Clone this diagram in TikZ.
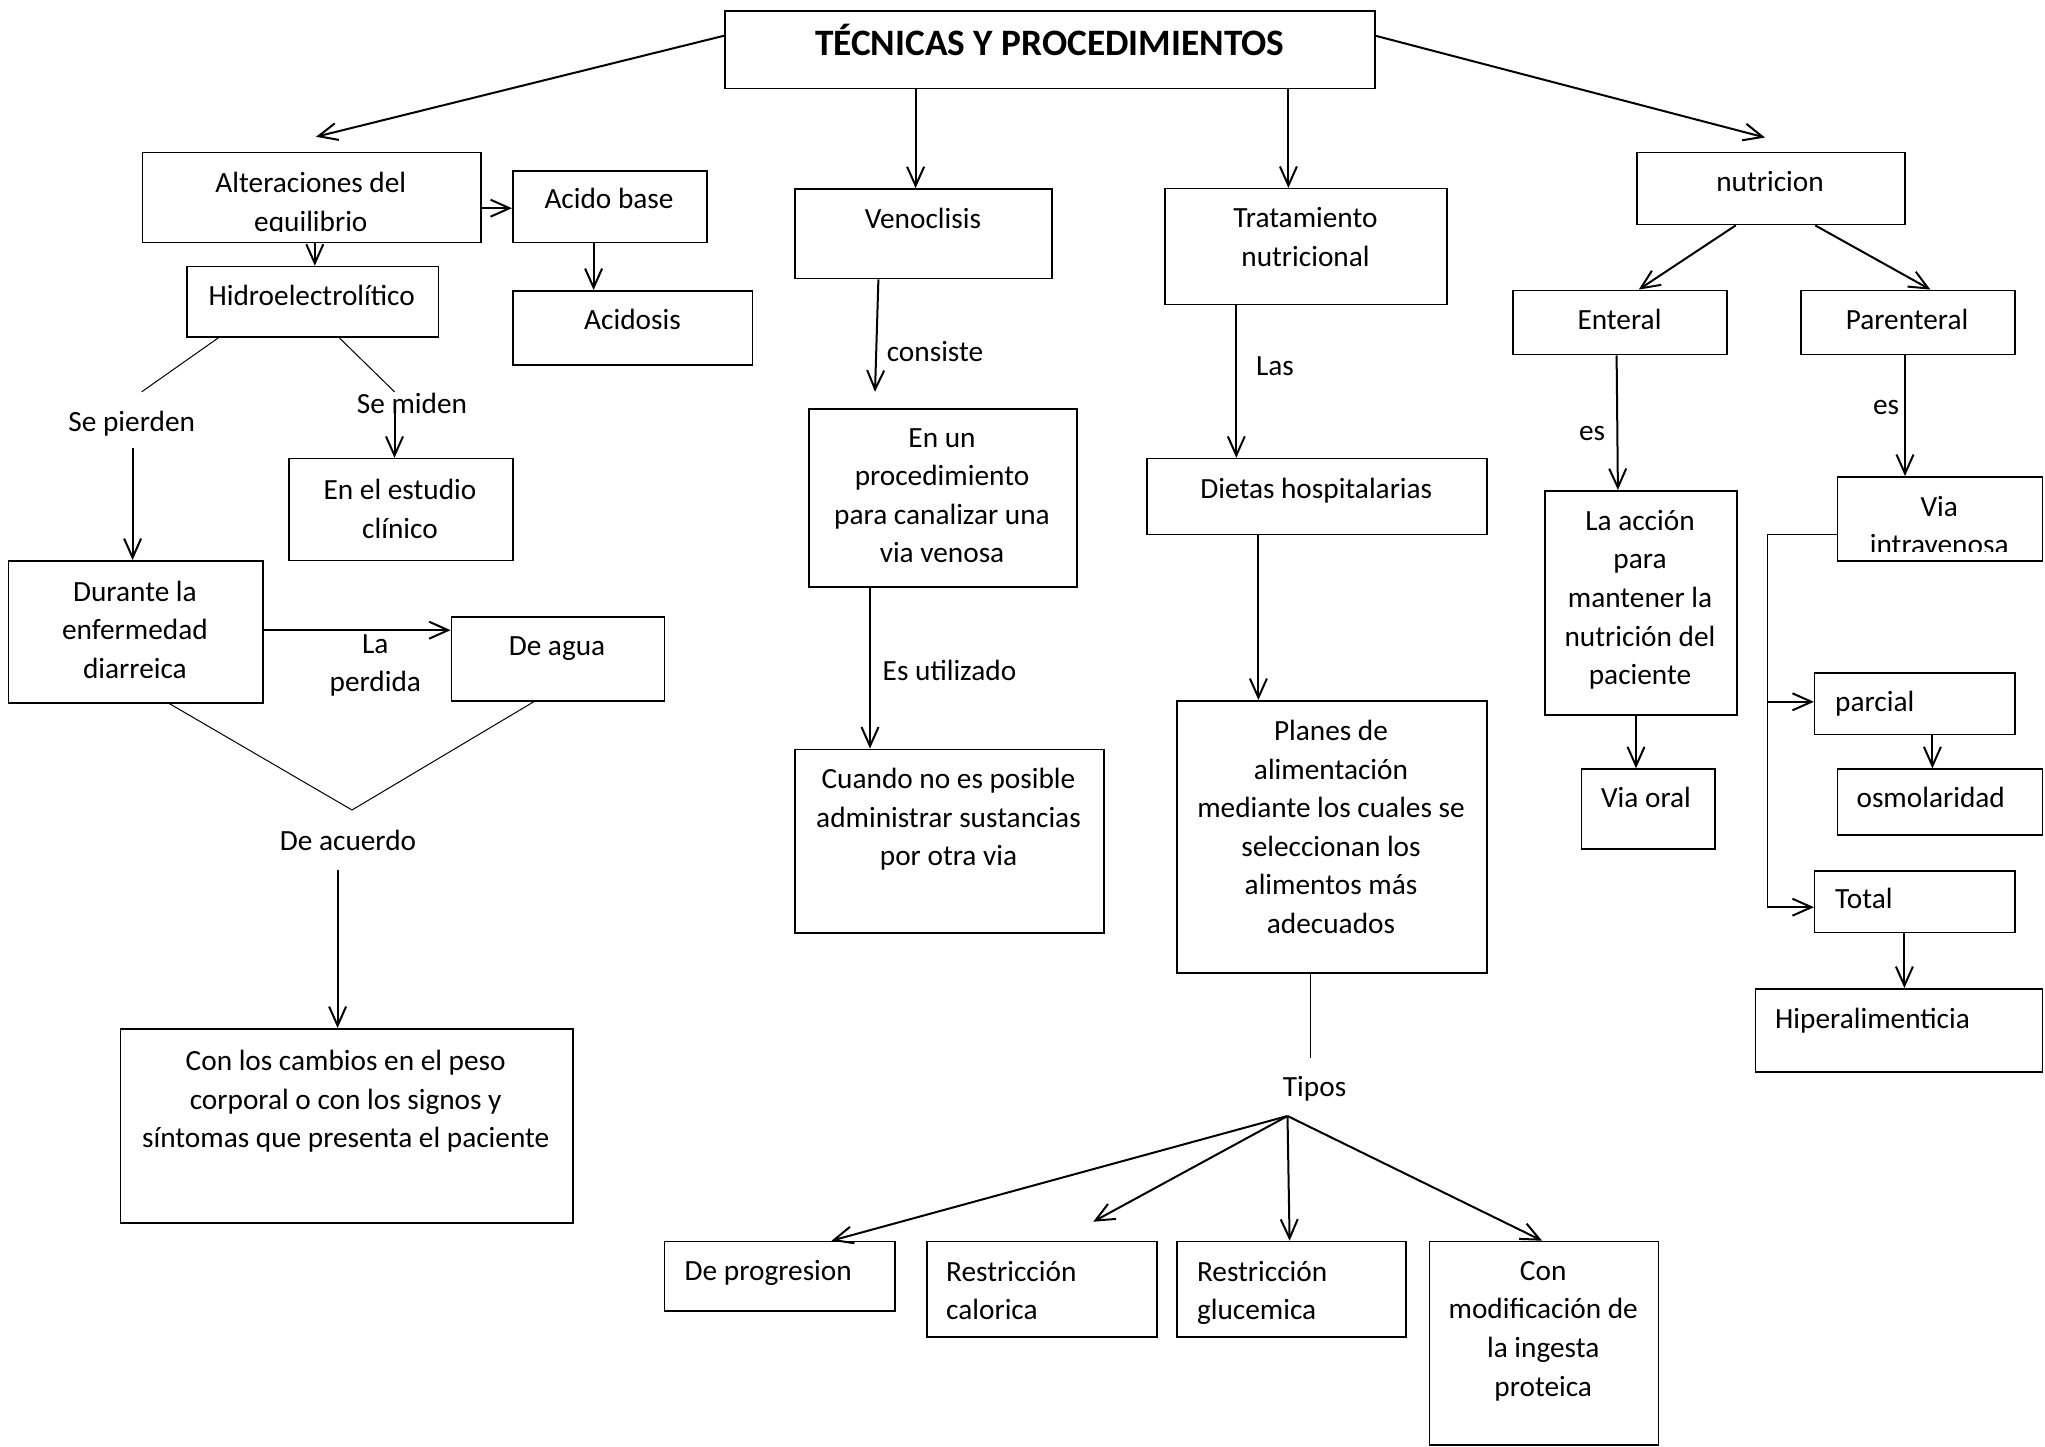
\documentclass[tikz,border=0pt]{standalone}
\usepackage{fontspec}
\setmainfont{Carlito}
\usetikzlibrary{arrows.meta}
\newcommand\bodyfont{\fontsize{29.3}{38.6}\selectfont}
\newcommand\titlefont{\fontsize{37.3}{45}\selectfont\bfseries}
\begin{document}
\begin{tikzpicture}[x=1pt,y=-1pt,
  box/.style={draw, line width=1.5pt, rectangle, inner sep=0pt, anchor=north west},
  arr/.style={line width=2pt, -{Straight Barb[length=19pt,width=17pt]}},
  thinln/.style={line width=1pt},
  txt/.style={inner sep=0pt, anchor=north, align=center, font=\bodyfont, execute at begin node=\strut},
  txtl/.style={txt, anchor=north west, align=left},
  txtm/.style={txt, yshift=-8pt},
  txtml/.style={txtl, yshift=-8pt}]
\useasboundingbox[fill=white] (0,0) rectangle (2045,1446);

% ---------- boxes ----------
\node[box, minimum width=650pt, minimum height=77.5pt] (title) at (724,10) {};
\node[box, minimum width=338.3pt, minimum height=90pt] (alt) at (141.7,151.8) {};
\node[box, minimum width=194pt, minimum height=71.8pt] (acido) at (512,170) {};
\node[box, minimum width=251.5pt, minimum height=70.3pt] (hidro) at (186,265.7) {};
\node[box, minimum width=239.7pt, minimum height=74pt] (acidosis) at (512,290) {};
\node[box, minimum width=257pt, minimum height=89.7pt] (veno) at (794,188.2) {};
\node[box, minimum width=282pt, minimum height=116pt] (trat) at (1164,187.9) {};
\node[box, minimum width=268.4pt, minimum height=72.1pt] (nutri) at (1636,151.8) {};
\node[box, minimum width=213.6pt, minimum height=64.3pt] (enteral) at (1512.4,289.6) {};
\node[box, minimum width=214.4pt, minimum height=64.3pt] (parent) at (1800,289.6) {};
\node[box, minimum width=224pt, minimum height=101.6pt] (estudio) at (288,457.9) {};
\node[box, minimum width=268pt, minimum height=178pt] (enun) at (808,408) {};
\node[box, minimum width=339.9pt, minimum height=76.1pt] (dietas) at (1146.4,457.8) {};
\node[box, minimum width=191.7pt, minimum height=224pt] (laac) at (1544.3,490) {};
\node[box, minimum width=205.1pt, minimum height=84pt] (viaint) at (1836.7,476) {};
\node[box, minimum width=254.2pt, minimum height=142pt] (durante) at (7.8,560) {};
\node[box, minimum width=212.9pt, minimum height=84pt] (deagua) at (450.6,616) {};
\node[box, minimum width=309pt, minimum height=183.5pt] (cuando) at (794,748.5) {};
\node[box, minimum width=309.9pt, minimum height=272pt] (planes) at (1176.4,700) {};
\node[box, minimum width=133.5pt, minimum height=80pt] (viaoral) at (1580.7,768.3) {};
\node[box, minimum width=200.5pt, minimum height=61.8pt] (parcial) at (1813.9,672) {};
\node[box, minimum width=205.1pt, minimum height=65.7pt] (osmol) at (1836.7,768.3) {};
\node[box, minimum width=200.5pt, minimum height=61.5pt] (total) at (1813.9,870.1) {};
\node[box, minimum width=287.2pt, minimum height=83.3pt] (hiper) at (1754.6,988) {};
\node[box, minimum width=452.5pt, minimum height=194pt] (con) at (119.5,1028) {};
\node[box, minimum width=230.2pt, minimum height=69.3pt] (deprog) at (663.8,1240.7) {};
\node[box, minimum width=230.1pt, minimum height=95.3pt] (calor) at (926.2,1240.7) {};
\node[box, minimum width=229.3pt, minimum height=95.3pt] (gluc) at (1176,1240.7) {};
\node[box, minimum width=229.4pt, minimum height=203.6pt] (conmod) at (1428.5,1240.7) {};

% ---------- texts ----------
\node[inner sep=0pt, anchor=base, font=\titlefont] (titleT) at (1049.7,55.4) {TÉCNICAS Y PROCEDIMIENTOS};
\begin{scope}
  \clip (141.7,151.8) rectangle (480,231);
  \node[txtm] (altT) at (310.85,164) {Alteraciones del\\equilibrio};
\end{scope}
\node[txt] (acidoT) at (609,181) {Acido base};
\node[txt] (hidroT) at (311.75,278) {Hidroelectrolítico};
\node[txt] (acidosisT) at (632.5,302.5) {Acidosis};
\node[txt] (venoT) at (923,201) {Venoclisis};
\node[txtm] (tratT) at (1305.5,199.5) {Tratamiento\\nutricional};
\node[txt] (nutriT) at (1770,164) {nutricion};
\node[txt] (entT) at (1619.5,302.5) {Enteral};
\node[txt] (parT) at (1907,302.5) {Parenteral};
\node[txt] (spT) at (131.7,404) {Se pierden};
\node[txt] (smT) at (412,386) {Se miden};
\node[txtm] (estT) at (400,471) {En el estudio\\clínico};
\node[txt] (consT) at (935,334) {consiste};
\node[txt] (lasT) at (1275,348) {Las};
\node[txt] (es1T) at (1592,413) {es};
\node[txt] (es2T) at (1886,387) {es};
\node[txtm] (enunT) at (942,420) {En un\\procedimiento\\para canalizar una\\via venosa};
\node[txt] (dietT) at (1316.3,471) {Dietas hospitalarias};
\begin{scope}
  \clip (1836.7,476) rectangle (2041.8,551);
  \node[txtm] (viaintT) at (1939.2,488) {Via\\intravenosa};
\end{scope}
\node[txtm] (laacT) at (1640,502) {La acción\\para\\mantener la\\nutrición del\\paciente};
\node[txt] (viaoralT) at (1646,780) {Via oral};
\node[txtl] (parcT) at (1835,684.6) {parcial};
\node[txt] (osmT) at (1930.7,780) {osmolaridad};
\node[txtl] (totT) at (1835,881.6) {Total};
\node[txtl] (hipT) at (1775,1001.6) {Hiperalimenticia};
\node[txtm] (durT) at (134.9,572.5) {Durante la\\enfermedad\\diarreica};
\node[txt] (deaguaT) at (557,628.6) {De agua};
\node[txtm] (laperdT) at (375.3,626) {La\\perdida};
\node[txt] (esutT) at (949.5,653) {Es utilizado};
\node[txtm] (planesT) at (1331,712) {Planes de\\alimentación\\mediante los cuales se\\seleccionan los\\alimentos más\\adecuados};
\node[txtm] (cuandoT) at (948.5,760) {Cuando no es posible\\administrar sustancias\\por otra via};
\node[txt] (deacT) at (348,823) {De acuerdo};
\node[txtm] (conT) at (345.7,1042) {Con los cambios en el peso\\corporal o con los signos y\\síntomas que presenta el paciente};
\node[txt] (tiposT) at (1314.6,1069) {Tipos};
\node[txtl] (deprogT) at (684.5,1253) {De progresion};
\node[txtml] (calorT) at (946,1253) {Restricción\\calorica};
\node[txtml] (glucT) at (1196.8,1253) {Restricción\\glucemica};
\node[txtm] (conmodT) at (1543.2,1253) {Con\\modificación de\\la ingesta\\proteica};

% ---------- helper coordinates ----------
\coordinate (tA) at (316,136.8);
\coordinate (tD) at (1765,137.5);
\coordinate (xB) at (915.6,0);
\coordinate (xC) at (1288.4,0);
\coordinate (yE) at (0,208.2);
\coordinate (xF) at (314.8,0);
\coordinate (xG) at (593.6,0);
\coordinate (xH1) at (218.8,0);
\coordinate (hL) at (141.7,391.8);
\coordinate (xH2) at (339,0);
\coordinate (hR) at (394.5,391.8);
\coordinate (spS) at (132.6,448);
\coordinate (smS) at (394.5,410.7);
\coordinate (yL) at (0,630.2);
\coordinate (xM1) at (169.2,0);
\coordinate (vM) at (352,810);
\coordinate (xM2) at (534.2,0);
\coordinate (daS) at (337.6,870.4);
\coordinate (xO) at (878.4,0);
\coordinate (tO) at (875,391.8);
\coordinate (xP) at (870,0);
\coordinate (xQ) at (1236.3,0);
\coordinate (xR) at (1258.4,0);
\coordinate (xS) at (1310.5,0);
\coordinate (tS) at (1310.5,1057.9);
\coordinate (fan) at (1287.5,1116);
\coordinate (xT1) at (831.5,0);
\coordinate (tT2) at (1093.2,1221.7);
\coordinate (xT3) at (1289.6,0);
\coordinate (xT4) at (1542.1,0);
\coordinate (xU1) at (1735.7,0);
\coordinate (xU2) at (1638.7,0);
\coordinate (xV1) at (1815.2,0);
\coordinate (xV2) at (1930.4,0);
\coordinate (xW1) at (1616.6,0);
\coordinate (xW2) at (1617.9,0);
\coordinate (xX) at (1905,0);
\coordinate (xY) at (1636,0);
\coordinate (yZ) at (0,534.3);
\coordinate (bZ) at (1767,907.2);
\coordinate (pZ) at (1767,701.8);
\coordinate (xAA) at (1932.4,0);
\coordinate (xAB) at (1904.4,0);

% ---------- connectors ----------
\draw[arr] ([yshift=13.75pt]title.west) -- (tA);
\draw[arr] (title.south -| xB) -- (veno.north -| xB);
\draw[arr] (title.south -| xC) -- (trat.north -| xC);
\draw[arr] ([yshift=13.75pt]title.east) -- (tD);
\draw[arr] (alt.east |- yE) -- (acido.west |- yE);
\draw[arr] (alt.south -| xF) -- (hidro.north -| xF);
\draw[arr] (acido.south -| xG) -- (acidosis.north -| xG);
\draw[thinln] (hidro.south -| xH1) -- (hL);
\draw[thinln] (hidro.south -| xH2) -- (hR);
\draw[arr] (spS) -- (durante.north -| spS);
\draw[arr] (smS) -- (estudio.north -| smS);
\draw[arr] (durante.east |- yL) -- (deagua.west |- yL);
\draw[thinln] (durante.south -| xM1) -- (vM) -- (deagua.south -| xM2);
\draw[arr] (daS) -- (con.north -| daS);
\draw[arr] (veno.south -| xO) -- (tO);
\draw[arr] (enun.south -| xP) -- (cuando.north -| xP);
\draw[arr] (trat.south -| xQ) -- (dietas.north -| xQ);
\draw[arr] (dietas.south -| xR) -- (planes.north -| xR);
\draw[thinln] (planes.south -| xS) -- (tS);
\draw[arr] (fan) -- (deprog.north -| xT1);
\draw[arr] (fan) -- (tT2);
\draw[arr] (fan) -- (gluc.north -| xT3);
\draw[arr] (fan) -- (conmod.north -| xT4);
\draw[arr] (nutri.south -| xU1) -- (enteral.north -| xU2);
\draw[arr] (nutri.south -| xV1) -- (parent.north -| xV2);
\draw[arr] (enteral.south -| xW1) -- (laac.north -| xW2);
\draw[arr] (parent.south -| xX) -- (viaint.north -| xX);
\draw[arr] (laac.south -| xY) -- (viaoral.north -| xY);
\draw[thinln] (viaint.west |- yZ) -| (bZ);
\draw[arr] (pZ) -- (parcial.west |- pZ);
\draw[arr] (bZ) -- (total.west |- bZ);
\draw[arr] (parcial.south -| xAA) -- (osmol.north -| xAA);
\draw[arr] (total.south -| xAB) -- (hiper.north -| xAB);
\end{tikzpicture}
\end{document}
